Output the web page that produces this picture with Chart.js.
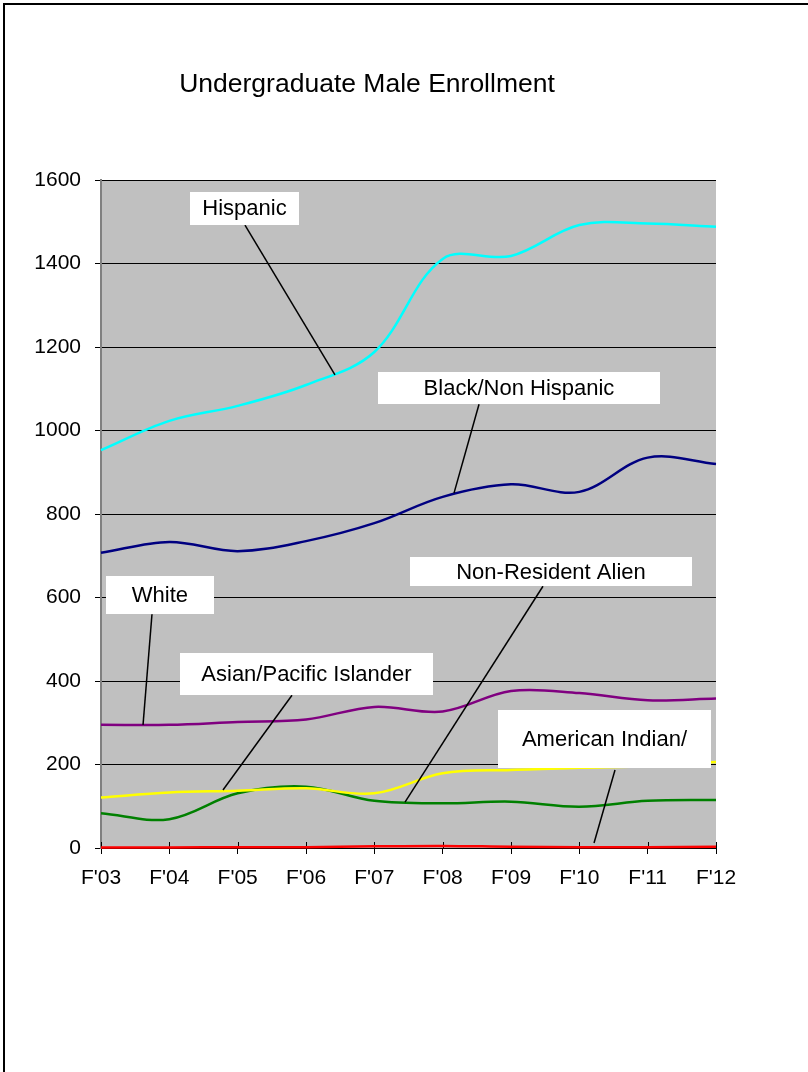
<!DOCTYPE html>
<html><head><meta charset="utf-8">
<script src="https://cdn.jsdelivr.net/npm/chart.js@4"></script>
<style>
html,body{margin:0;padding:0;background:#fff;overflow:hidden}
#wrap{position:relative;width:808px;height:1072px}
#frame{position:absolute;left:3px;top:3px;width:900px;height:1200px;border-left:2px solid #000;border-top:2px solid #000;pointer-events:none}
canvas{position:absolute;left:0;top:0}
</style></head><body>
<div id="wrap"><canvas id="c" width="808" height="1072"></canvas><div id="frame"></div></div>
<script>
// ---- data ----
const categories = ["F'03","F'04","F'05","F'06","F'07","F'08","F'09","F'10","F'11","F'12"];
const hispanic         = [953, 1023, 1059, 1109, 1188, 1411, 1418, 1492, 1496, 1488];
const blackNonHispanic = [707, 733, 711, 735, 778, 841, 871, 853, 935, 920];
const white            = [295, 295, 302, 308, 338, 327, 376, 371, 354, 358];
const asianPacific     = [121, 133, 137, 143, 131, 179, 187, 192, 196, 206];
const nonResidentAlien = [83, 69, 131, 147, 113, 107, 111, 99, 113, 115];
const americanIndian   = [1, 1, 2, 2, 4, 5, 3, 2, 2, 3];
const yTicks = [0, 200, 400, 600, 800, 1000, 1200, 1400, 1600];
const chartTitle = "Undergraduate Male Enrollment";

// callout labels: box centre and leader ends in data space (category index, value)
const callouts = [
  {text:"Hispanic",                cx:2.100, cy:1532, w:109, h:33, from:[2.107,1492], to:[3.424,1133]},
  {text:"Black/Non Hispanic",      cx:6.117, cy:1102, w:282, h:32, from:[5.532,1063], to:[5.166,850]},
  {text:"White",                   cx:0.863, cy:606,  w:108, h:38, from:[0.746,560],  to:[0.615,295]},
  {text:"Asian/Pacific Islander",  cx:3.007, cy:417,  w:253, h:42, from:[2.795,366],  to:[1.785,139]},
  {text:"Non-Resident Alien",      cx:6.585, cy:662,  w:282, h:29, from:[6.468,627],  to:[4.449,110]},
  {text:"American Indian/",        cx:7.368, cy:261,  w:213, h:58, from:[7.522,187],  to:[7.215,12]}
];

const FONT = "'Liberation Sans', Arial, sans-serif";

const decor = {
  id:'decor',
  beforeDraw(chart){
    const {ctx, chartArea:a} = chart;
    ctx.save();
    ctx.fillStyle = '#C0C0C0';
    ctx.fillRect(a.left, a.top, a.right-a.left, a.bottom-a.top);
    ctx.restore();
  },
  beforeDatasetsDraw(chart){
    const {ctx, chartArea:a, scales:{x}} = chart;
    ctx.save();
    ctx.strokeStyle = '#000'; ctx.lineWidth = 1;
    for (let i=0;i<categories.length;i++){
      const px = Math.round(x.getPixelForTick(i))+0.5;
      ctx.beginPath(); ctx.moveTo(px, a.bottom); ctx.lineTo(px, a.bottom-6); ctx.stroke();
    }
    ctx.restore();
  },
  afterDatasetsDraw(chart){
    const {ctx, scales:{x,y}} = chart;
    ctx.save();
    const xp = v => x.getPixelForTick(0) + (x.getPixelForTick(1)-x.getPixelForTick(0))*v;
    ctx.strokeStyle = '#000'; ctx.lineWidth = 1.5;
    callouts.forEach(c=>{
      ctx.beginPath();
      ctx.moveTo(xp(c.from[0]), y.getPixelForValue(c.from[1]));
      ctx.lineTo(xp(c.to[0]), y.getPixelForValue(c.to[1]));
      ctx.stroke();
    });
    ctx.font = "22px " + FONT;
    ctx.textAlign = 'center'; ctx.textBaseline = 'middle';
    callouts.forEach(c=>{
      const cx = xp(c.cx), cy = y.getPixelForValue(c.cy);
      ctx.fillStyle = '#fff';
      ctx.fillRect(Math.round(cx - c.w/2), Math.round(cy - c.h/2), c.w, c.h);
      ctx.fillStyle = '#000';
      ctx.fillText(c.text, cx, cy+1);
    });
    // title
    ctx.font = "26.5px " + FONT;
    ctx.textBaseline = 'alphabetic';
    ctx.fillText(chartTitle, 367, 92);
    ctx.restore();
  }
};

function ds(label, data, color){
  return {label, data, borderColor:color, backgroundColor:color, borderWidth:2.5,
          pointRadius:0, tension:0.35, fill:false, clip:4};
}

new Chart(document.getElementById('c'), {
  type:'line',
  data:{
    labels:categories,
    datasets:[
      ds('American Indian/', americanIndian, '#FF0000'),
      ds('Hispanic', hispanic, '#00FFFF'),
      ds('Black/Non Hispanic', blackNonHispanic, '#000080'),
      ds('White', white, '#800080'),
      ds('Asian/Pacific Islander', asianPacific, '#FFFF00'),
      ds('Non-Resident Alien', nonResidentAlien, '#008000')
    ]
  },
  options:{
    responsive:false, devicePixelRatio:1, animation:false,
    layout:{padding:{top:180, left:0, right:92, bottom:0}},
    plugins:{legend:{display:false}, tooltip:{enabled:false}, title:{display:false}},
    scales:{
      x:{
        offset:false,
        grid:{display:true, drawOnChartArea:false, drawTicks:true, tickLength:6, color:'#000'},
        border:{color:'#000', width:1},
        ticks:{font:{family:FONT, size:21}, color:'#000', padding:12, maxRotation:0, autoSkip:false},
        afterFit(s){ s.height = 224; }
      },
      y:{
        min:0, max:1600,
        afterBuildTicks(s){ s.ticks = yTicks.map(v=>({value:v})); },
        grid:{color:'#000', lineWidth:1, tickLength:6},
        border:{color:'#808080', width:2},
        ticks:{font:{family:FONT, size:21}, color:'#000', padding:14, callback:v=>String(v)},
        afterFit(s){ s.width = 101; }
      }
    }
  },
  plugins:[decor]
});
</script>
</body></html>
